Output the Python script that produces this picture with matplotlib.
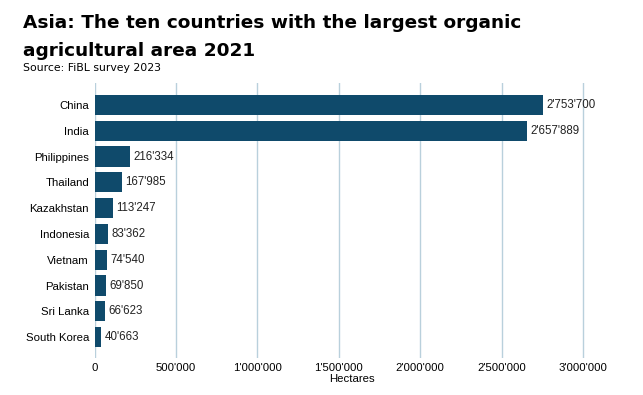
import matplotlib
matplotlib.use("Agg")
import matplotlib.pyplot as plt
from matplotlib.ticker import FuncFormatter

countries = ["China", "India", "Philippines", "Thailand", "Kazakhstan",
             "Indonesia", "Vietnam", "Pakistan", "Sri Lanka", "South Korea"]
hectares = [2753700, 2657889, 216334, 167985, 113247, 83362, 74540, 69850, 66623, 40663]
xticks = [0, 500000, 1000000, 1500000, 2000000, 2500000, 3000000]

plt.rcParams['font.family'] = ['Liberation Sans', 'DejaVu Sans']

def fmt(v):
    return f"{int(v):,}".replace(",", "'")

fig = plt.figure(figsize=(6.43, 3.95), dpi=100)
W, H = 643, 395
left, right, top, bottom = 94.5, 610, 83, 358
ax = fig.add_axes([left / W, 1 - bottom / H, (right - left) / W, (bottom - top) / H])

bar_color = "#0f4a6b"
grid_color = "#b9d0dc"
ypos = list(range(len(countries)))
ax.barh(ypos, hectares, height=0.78, color=bar_color, zorder=3)
ax.set_ylim(len(countries) - 1 + 0.81, -0.85)
ax.set_yticks(ypos)
ax.set_yticklabels(countries, fontsize=8.2)
xmax = 3000000 * (right - left) / (583 - left)
ax.set_xlim(0, xmax)
ax.set_xticks(xticks)
ax.xaxis.set_major_formatter(FuncFormatter(lambda v, p: fmt(v)))
ax.tick_params(axis='x', labelsize=8.2, length=0, pad=3.5)
ax.tick_params(axis='y', length=0, pad=4)
ax.grid(axis='x', color=grid_color, linewidth=1, zorder=0)
for s in ax.spines.values():
    s.set_visible(False)
ax.set_xlabel("Hectares", fontsize=8.2, labelpad=1)

for y, v in zip(ypos, hectares):
    ax.annotate(fmt(v), (v, y), xytext=(2.5, 0), textcoords='offset points',
                va='center', ha='left', fontsize=8.3, color='#222222', zorder=4)

fig.text(23 / W, 1 - 28 / H, "Asia: The ten countries with the largest organic",
         fontsize=13.3, fontweight='bold', family='DejaVu Sans', ha='left', va='baseline')
fig.text(23 / W, 1 - 56 / H, "agricultural area 2021",
         fontsize=13.3, fontweight='bold', family='DejaVu Sans', ha='left', va='baseline')
fig.text(23 / W, 1 - 71 / H, "Source: FiBL survey 2023",
         fontsize=7.8, family='DejaVu Sans', ha='left', va='baseline')

fig.savefig("out.png", dpi=100, facecolor='white')
